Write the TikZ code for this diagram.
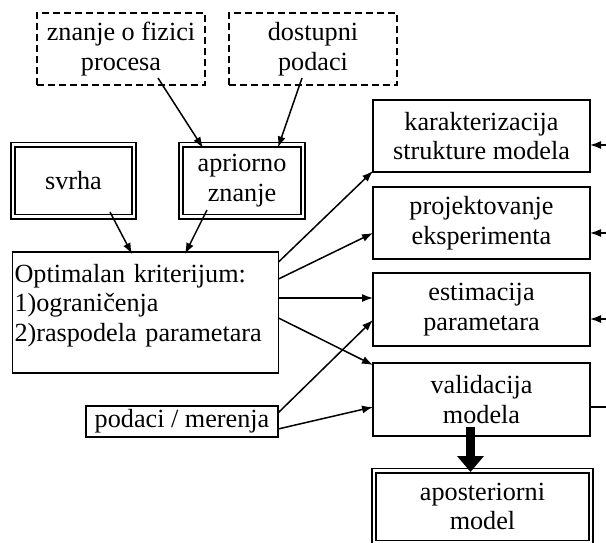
\documentclass[tikz,border=0pt]{standalone}
\usepackage{fontspec}
\setmainfont{Liberation Serif}
\usetikzlibrary{positioning, calc, arrows.meta}
\tikzstyle{blok}=[draw=black, line width=0.85pt, outer sep=0pt, inner sep=1pt,
  align=center, minimum width=108.5pt, minimum height=36pt,
  font=\fontsize{13.1}{14.75}\selectfont]
\tikzstyle{dvostruki}=[blok, line width=0.9pt, double, double distance=1.2pt,
  minimum width=60.75pt]
\tikzstyle{isprekidani}=[blok, dash pattern=on 3.5pt off 2pt, minimum width=84pt]
\tikzstyle{veza}=[-{Latex[length=5.5pt,width=4pt]}, line width=0.75pt]
\tikzstyle{debela}=[-{Triangle[length=8pt,width=13pt]}, line width=4.5pt]

\begin{document}
\begin{tikzpicture}[x=0.5pt, y=-0.5pt]
      \useasboundingbox (0,0) rectangle (606,542);
      \clip (0,0) rectangle (606,542);

      % ulazi
      \node[isprekidani] (fizika) at (121,49) {znanje o fizici\\procesa};
      \node[isprekidani] (dostupni) at (313,49) {dostupni\\podaci};
      \node[dvostruki] (svrha) at (73.5,180.5) {svrha};
      \node[dvostruki] (apriorno) at (242,180.5) {apriorno\\znanje};
      \node[blok, align=left, text width=131pt, minimum height=60.5pt]
        (kriterijum) at (145.5,312.5)
        {Optimalan kriterijum:\\1)ograničenja\\2)raspodela parametara\\[-5pt]\mbox{}};
      \node[blok, minimum width=96pt, minimum height=15.5pt]
        (merenja) at (182,421.5) {podaci / merenja};

      % koraci
      \node[blok] (karakterizacija) at (481.5,136) {karakterizacija\\strukture modela};
      \node[blok] (projektovanje) at (481.5,223) {projektovanje\\eksperimenta};
      \node[blok, minimum height=36.5pt] (estimacija) at (481.5,309.5) {estimacija\\parametara};
      \node[blok, minimum height=36.5pt] (validacija) at (481.5,399.5) {validacija\\modela};
      \node[dvostruki, minimum width=108.5pt] (aposteriorni) at (482.5,506.5)
        {aposteriorni\\model};

      \coordinate (povrat) at (620,407);

      \draw[veza] ($(fizika.south)+(37,-7)$) -- ($(apriorno.north)+(-39,3.5)$);
      \draw[veza] ($(dostupni.south)+(-11,-7)$) -- ($(apriorno.north)+(36,3)$);
      \draw[veza] ($(svrha.south)+(36.5,-4.5)$) -- ($(kriterijum.north)+(-13.5,2)$);
      \draw[veza] ($(apriorno.south)+(-35,-6.5)$) -- ($(kriterijum.north)+(39.5,2)$);

      \draw[veza] ($(kriterijum.north east)+(0,10)$) -- ($(karakterizacija.south west)+(0,-1)$);
      \draw[veza] ($(kriterijum.north east)+(0,27)$) -- ($(projektovanje.west)+(0,10)$);
      \draw[veza] ($(kriterijum.north east)+(0,46)$) -- ($(estimacija.west)+(0,-11.5)$);
      \draw[veza] ($(kriterijum.north east)+(0,66)$) -- ($(validacija.north west)+(0,2)$);
      \draw[veza] ($(merenja.north east)+(0,7)$) -- ($(estimacija.west)+(0,10.5)$);
      \draw[veza] ($(merenja.east)+(0,7.5)$) -- ($(validacija.west)+(0,7.5)$);

      \draw[debela] ($(validacija.south)+(-11,-9)$) -- ($(aposteriorni.north)+(-12,1.5)$);

      % povratna veza
      \draw[line width=0.75pt] ($(validacija.east)+(0,7.5)$) -- (povrat)
        -- ($(karakterizacija.east)+(30,9)$);
      \foreach \b/\d in {karakterizacija/9, projektovanje/10, estimacija/9.5}
        \draw[veza] ($(\b.east)+(30,\d)$) -- ($(\b.east)+(0,\d)$);
\end{tikzpicture}
\end{document}
